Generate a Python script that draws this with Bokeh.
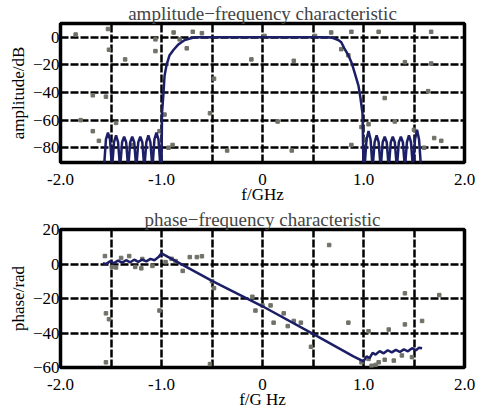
from bokeh.plotting import figure
from bokeh.layouts import column
from bokeh.models import FixedTicker, Range1d
from bokeh.embed import file_html
from bokeh.resources import INLINE

# ---------------- data ----------------
x_ticks = [-2, -1, 0, 1, 2]
x_tick_labels = ["-2.0", "-1.0", "0", "1.0", "2.0"]
x_grid = [-1.5, -1.0, -0.5, 0.0, 0.5, 1.0, 1.5]

amp_y_ticks = [0, -20, -40, -60, -80]
phase_y_ticks = [20, 0, -20, -40, -60]

# amplitude-frequency curve (dB)
amp_x = [-1.57, -1.55, -1.53, -1.51, -1.49, -1.47, -1.45, -1.43, -1.41,
         -1.39, -1.37, -1.35, -1.33, -1.31, -1.29, -1.27, -1.25, -1.23,
         -1.21, -1.19, -1.17, -1.15, -1.13, -1.11, -1.09, -1.07, -1.05,
         -1.03, -1.01,
         -1.00, -0.995, -0.98, -0.97, -0.95, -0.92, -0.88, -0.83, -0.77,
         -0.70, -0.65, 0.0, 0.65, 0.70, 0.75, 0.78, 0.81, 0.85, 0.88,
         0.91, 0.95, 0.97, 0.99, 1.00,
         1.01, 1.03, 1.05, 1.07, 1.09, 1.11, 1.13, 1.15, 1.17, 1.19, 1.21,
         1.23, 1.25, 1.27, 1.29, 1.31, 1.33, 1.35, 1.37, 1.39, 1.41, 1.43,
         1.45, 1.47, 1.49, 1.51, 1.53, 1.55, 1.57]
amp_y = [-95, -74, -69, -74, -95, -76, -71, -76, -95,
         -76, -72, -76, -95, -76, -72, -76, -95, -76,
         -72, -76, -95, -76, -71, -76, -95, -74, -69,
         -74, -95,
         -95, -55, -40, -28, -20, -13, -9, -5, -2,
         -0.5, 0, 0, 0, -0.5, -2, -3.6, -8, -13, -18,
         -25, -35, -44, -55, -95,
         -95, -74, -68, -74, -95, -76, -71, -76, -95, -76, -72,
         -76, -95, -76, -72, -76, -95, -76, -72, -76, -95, -76,
         -71, -76, -95, -74, -67, -74, -95]

# phase-frequency curve (rad)
phase_x = [-1.58, -1.55, -1.51, -1.47, -1.43, -1.39, -1.35, -1.31, -1.27,
           -1.23, -1.19, -1.15, -1.11, -1.07, -1.03, -1.00, -0.5, 0.0,
           0.5, 0.90, 1.00, 1.03, 1.06, 1.09, 1.12, 1.16, 1.20, 1.24,
           1.28, 1.32, 1.36, 1.40, 1.44, 1.48, 1.52, 1.55, 1.58]
phase_y = [0.5, 0.0, 1.5, 0.5, 2.0, 0.8, 2.2, 1.0, 2.5,
           1.2, 2.6, 1.5, 3.0, 2.2, 4.0, 6.2, -9.8, -24.5,
           -40.5, -53.5, -56.5, -53.5, -54.5, -51.5, -52.5, -50.5, -51.8, -50.0,
           -51.2, -49.8, -51.0, -49.5, -50.6, -48.8, -50.0, -48.5, -48.8]

# scanned speckle dots (gray)
amp_noise_x = [-1.85, -1.53, -1.52, -1.36, -1.68, -1.55, -1.80, -1.68, -1.62,
               -1.06, -1.06, -0.97, -0.89, -0.88, -0.82, -0.69, -0.60, -0.75,
               -1.02, -0.93, -0.11, 0.31, 0.68, 0.88, 1.15, 1.67, 0.78, 0.85,
               1.41, 1.67, 1.21, 1.64, 1.05, 1.31, 1.50, 1.70, 1.77, 0.29,
               0.88, 0.02, 0.52, -0.48, -0.52, 1.02, 0.98, 1.60, -1.45, -1.30,
               -0.35, 0.15]
amp_noise_y = [2, 6, -9, -16, -42, -43, -60, -68, -75,
               -1.5, -10, -56, -78, 3.5, -1.5, 4, 3, -8,
               -68, -80, -16, -17, 3.5, 4, 4, 4, -8.6, -13,
               -18, -19, -44, -39, -63, -61, -67, -73, -75, -82,
               -78, 1, 1, -30, -55, -74, -65, -80, -62, -78,
               -82, -61]

phase_noise_x = [-1.56, -1.49, -1.32, -1.26, -1.19, -1.09, -0.96, -0.86, -0.72,
                 -0.79, -0.50, -0.48, -1.55, -1.52, -1.55, -1.02, -0.10, -0.07,
                 0.00, 0.08, 0.21, 0.31, 0.38, 0.11, 0.85, 1.05, 1.25, 1.41,
                 1.58, 1.05, 1.21, 1.38, 0.98, 1.08, 1.41, 1.75, 0.66, -1.40,
                 -1.20, -0.90, -0.60, 1.15, 1.30, -0.52, 0.48, 1.48, -1.45,
                 -0.65, 0.25, 1.12]
phase_noise_y = [4.6, -1.7, 4.6, -1.7, 2.9, -1.1, 1.1, 1.7, 4.0,
                 -4.0, -10, -14, -28.6, -32, -57, -27, -19, -27,
                 -24, -24, -28.6, -33, -34, -34, -34, -39, -38, -35,
                 -33, -55, -55.5, -53, -57, -59, -17, -18, 11, 3.5,
                 -2.5, 3.0, 4.5, -57, -56, -58, -48, -54, -2.0,
                 4.0, -36, -58.5]

# ---------------- style ----------------
FONT = "'Liberation Serif', 'Times New Roman', serif"
TICK_FONT = "Times New Roman"
CURVE = "#1c1f66"
NOISE = "#6f7266"


def make_fig(title, title_size, xlabel, ylabel, yr, yticks, ygrid, frame_h):
    p = figure(x_range=Range1d(-2, 2), y_range=Range1d(*yr),
               frame_width=404, frame_height=frame_h,
               output_backend="svg", toolbar_location=None,
               min_border_left=60, min_border_right=20,
               min_border_top=0, min_border_bottom=0)
    p.outline_line_color = "black"
    p.outline_line_width = 3.5
    p.background_fill_color = "white"
    p.border_fill_color = "white"

    p.title.text = title
    p.title.align = "center"
    p.title.text_font = FONT
    p.title.text_font_size = title_size
    p.title.text_font_style = "normal"
    p.title.standoff = 0
    p.title.offset = 5

    p.xaxis.ticker = FixedTicker(ticks=x_ticks)
    p.xaxis.major_label_overrides = {t: s for t, s in zip(x_ticks, x_tick_labels)}
    p.yaxis.ticker = FixedTicker(ticks=yticks)
    p.axis.axis_line_color = None
    p.axis.major_tick_line_color = None
    p.axis.minor_tick_line_color = None
    p.axis.major_tick_out = 0
    p.axis.major_label_text_font = TICK_FONT
    p.axis.major_label_text_font_size = "17px"
    p.axis.major_label_text_font_style = "normal"
    p.axis.major_label_text_color = "black"
    p.axis.axis_label_text_font = FONT
    p.axis.axis_label_text_font_size = "17px"
    p.axis.axis_label_text_font_style = "normal"
    p.axis.axis_label_text_color = "black"
    p.xaxis.major_label_standoff = 11
    p.yaxis.major_label_standoff = 1
    p.xaxis.axis_label = xlabel
    p.yaxis.axis_label = ylabel
    p.xaxis.axis_label_standoff = -3
    p.yaxis.axis_label_standoff = 2

    p.xgrid.ticker = FixedTicker(ticks=x_grid)
    p.ygrid.ticker = FixedTicker(ticks=ygrid)
    p.grid.grid_line_color = "black"
    p.grid.grid_line_width = 2.5
    p.grid.grid_line_dash = "8 2"
    p.grid.grid_line_alpha = 1.0
    return p


# ---- amplitude ----
p1 = make_fig("amplitude\u2212frequency characteristic", "19px", "f/GHz", "amplitude/dB",
              (-90.7, 10), amp_y_ticks, [0, -20, -40, -60, -80], 139)
p1.scatter(amp_noise_x, amp_noise_y, marker="square", size=3.5, color=NOISE)
p1.line(amp_x, amp_y, color=CURVE, line_width=2.5)

# ---- phase ----
p2 = make_fig("phase\u2212frequency characteristic", "19px", "f/G Hz", "phase/rad",
              (-60, 20), phase_y_ticks, [0, -20, -40], 138)
p2.scatter(phase_noise_x, phase_noise_y, marker="square", size=3.5, color=NOISE)
p2.line(phase_x, phase_y, color=CURVE, line_width=2.5)

layout = column(p1, p2, spacing=0)
open("out.html", "w").write(file_html(layout, INLINE))
